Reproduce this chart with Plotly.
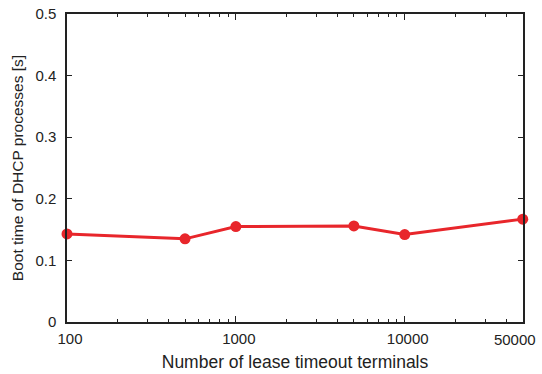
import plotly.graph_objects as go

# Boot time of DHCP processes vs. number of lease timeout terminals
terminals = [100, 500, 1000, 5000, 10000, 50000]
boot_time = [0.143, 0.135, 0.155, 0.156, 0.142, 0.167]

major_ticks = [100, 1000, 10000]
major_labels = ["100", "1000", "10000"]
edge_tick = 50000
edge_label = "50000"
minor_ticks = [m * d for d in (100, 1000, 10000) for m in range(2, 10) if m * d < 50000]

y_ticks = [0, 0.1, 0.2, 0.3, 0.4, 0.5]
y_labels = ["0", "0.1", "0.2", "0.3", "0.4", "0.5"]

red = "#e8262b"
axis_color = "#222222"
font = dict(family="Liberation Sans, Arial, sans-serif", size=15, color="#222222")

fig = go.Figure()
fig.add_trace(go.Scatter(
    x=terminals, y=boot_time, mode="lines+markers",
    line=dict(color=red, width=3),
    marker=dict(color=red, size=11),
    showlegend=False, cliponaxis=False,
))
# invisible trace to host the minor-tick axis
fig.add_trace(go.Scatter(x=[terminals[0]], y=[boot_time[0]], xaxis="x2",
                         mode="markers", marker=dict(opacity=0),
                         showlegend=False, hoverinfo="skip"))

xr = [2, 4.7005]
fig.update_layout(
    width=542, height=374,
    margin=dict(l=67, r=19, t=14, b=52),
    paper_bgcolor="white", plot_bgcolor="white",
    font=font,
    xaxis=dict(
        type="log", range=xr, automargin=False,
        tickmode="array", tickvals=major_ticks + [edge_tick], ticktext=major_labels + [""],
        ticks="inside", ticklen=6, tickwidth=1.2, tickcolor=axis_color,
        ticklabelstandoff=2, ticklabelshift=3,
        showline=True, linecolor=axis_color, linewidth=1.5, mirror="ticks",
        showgrid=False, zeroline=False,
        title=dict(text="Number of lease timeout terminals", font=dict(size=17.5), standoff=10),
    ),
    # minor ticks plus the right-edge label, nudged left to stay on the page
    xaxis2=dict(
        type="log", range=xr, overlaying="x", side="bottom", automargin=False,
        tickmode="array", tickvals=minor_ticks + [edge_tick],
        ticktext=[""] * len(minor_ticks) + [edge_label],
        ticks="inside", ticklen=3, tickwidth=1, tickcolor=axis_color,
        ticklabelstandoff=7, ticklabelshift=-8, ticklabeloverflow="allow",
        showline=False, mirror="ticks", showgrid=False, zeroline=False,
        showticklabels=True,
    ),
    yaxis=dict(
        range=[0, 0.5], automargin=False,
        tickmode="array", tickvals=y_ticks, ticktext=y_labels,
        ticks="inside", ticklen=5, tickwidth=1.2, tickcolor=axis_color,
        ticklabelstandoff=6,
        showline=True, linecolor=axis_color, linewidth=1.5, mirror="ticks",
        showgrid=False, zeroline=False,
        title=dict(text="Boot time of DHCP processes [s]", font=dict(size=15.5), standoff=8),
    ),
)

fig.write_html("out.html")
